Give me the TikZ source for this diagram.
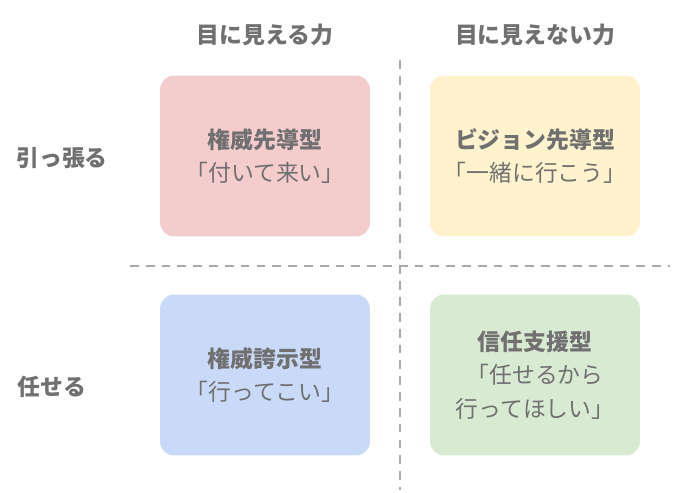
\documentclass[tikz,border=0pt]{standalone}
\usepackage{fontspec}
\setmainfont{Noto Sans CJK JP}
\usetikzlibrary{positioning}
\definecolor{txtgray}{HTML}{707070}
\definecolor{linegray}{HTML}{AAAAAA}
\definecolor{boxpink}{HTML}{F4CCCC}
\definecolor{boxyellow}{HTML}{FFF2CC}
\definecolor{boxblue}{HTML}{C9DAF8}
\definecolor{boxgreen}{HTML}{D9EAD3}
\tikzset{
  quad/.style={rounded corners=8pt, minimum width=4.2cm, minimum height=3.22cm,
    text=txtgray, align=center, font=\fontsize{13}{19}\selectfont},
  head/.style={text=txtgray, font=\fontsize{13}{16}\selectfont\bfseries},
  split/.style={linegray, dashed, line width=1.2pt, dash pattern=on 5pt off 4pt},
}
\begin{document}
\begin{tikzpicture}[x=0.02cm, y=-0.02cm]
  \useasboundingbox (0,0) rectangle (700,493);

  % Quadrants
  \node[quad, fill=boxpink] (auth) at (265,156) {\textbf{権威先導型}\\「付いて来い」};
  \node[quad, fill=boxyellow] (vision) at (535,156) {\textbf{ビジョン先導型}\\「一緒に行こう」};
  \node[quad, fill=boxblue] (boast) at (265,375) {\textbf{権威誇示型}\\「行ってこい」};
  \node[quad, fill=boxgreen] (trust) at (535,375) {\textbf{信任支援型}\\「任せるから\\行ってほしい」};

  % Headers
  \node[head] (visible) at (265,35) {目に見える力};
  \node[head] (invisible) at (535,35) {目に見えない力};
  \node[head] (pull) at (62,158) {引っ張る};
  \node[head] (leave) at (52,387) {任せる};

  % Dividers
  \coordinate (vtop) at (400,60);
  \coordinate (vbot) at (400,490);
  \coordinate (hleft) at (130,266);
  \coordinate (hright) at (670,266);
  \draw[split] (vtop) -- (vbot);
  \draw[split] (hleft) -- (hright);

\end{tikzpicture}
\end{document}
